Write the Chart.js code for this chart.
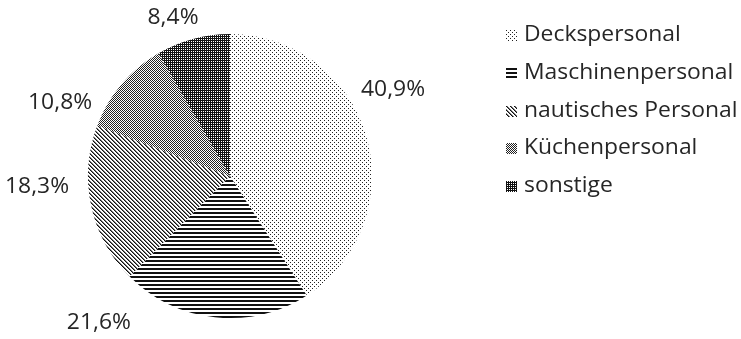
<!DOCTYPE html>
<html>
<head>
<meta charset="utf-8">
<script src="https://cdn.jsdelivr.net/npm/chart.js@4/dist/chart.umd.min.js"></script>
<style>
  html, body { margin: 0; padding: 0; background: #fff; }
  #contenedor { width: 741px; height: 339px; position: relative; }
</style>
</head>
<body>
<div id="contenedor"><canvas id="grafico-personal"></canvas></div>
<script>
// Datos del gráfico
const etiquetas = ['Deckspersonal', 'Maschinenpersonal', 'nautisches Personal', 'Küchenpersonal', 'sonstige'];
const anteiles = [40.9, 21.6, 18.3, 10.8, 8.4];

// Ajuste de la posición de las etiquetas: [grados respecto al centro del sector, factor del radio]
const ajusteEtiquetas = [[-11.4, 1.298], [35.6, 1.387], [8.8, 1.361], [-17, 1.303], [-4.7, 1.183]];

const fuente = '21px "Open Sans"';
const estiramiento = 1.09;
const colorTexto = '#262626';

// Crea un patrón a partir de una pequeña baldosa
function crearPatron(ctx, w, h, pintar) {
    const baldosa = document.createElement('canvas');
    baldosa.width = w;
    baldosa.height = h;
    const b = baldosa.getContext('2d');
    b.fillStyle = '#fff';
    b.fillRect(0, 0, w, h);
    pintar(b);
    return ctx.createPattern(baldosa, 'repeat');
}

function pixel(b, color, x, y) {
    b.fillStyle = color;
    b.fillRect(x, y, 1, 1);
}

const canvas = document.getElementById('grafico-personal');
const ctx = canvas.getContext('2d');

const patrones = [
    // Puntos dispersos
    crearPatron(ctx, 4, 4, b => {
        pixel(b, '#222', 0, 0);
        pixel(b, '#222', 2, 2);
    }),
    // Líneas horizontales
    crearPatron(ctx, 1, 4, b => {
        b.fillStyle = '#111';
        b.fillRect(0, 0, 1, 2);
    }),
    // Líneas diagonales
    crearPatron(ctx, 4, 4, b => {
        for (let y = 0; y < 4; y++) {
            for (let x = 0; x < 4; x++) {
                const m = ((x - y) % 4 + 4) % 4;
                if (m === 0) pixel(b, '#111', x, y);
                if (m === 1) pixel(b, '#777', x, y);
            }
        }
    }),
    // Tablero fino (gris)
    crearPatron(ctx, 2, 2, b => {
        pixel(b, '#222', 0, 0);
        pixel(b, '#222', 1, 1);
    }),
    // Oscuro con puntos blancos
    crearPatron(ctx, 2, 2, b => {
        b.fillStyle = '#111';
        b.fillRect(0, 0, 2, 2);
        pixel(b, '#fff', 1, 1);
    })
];

// Texto estirado horizontalmente (la fuente original es más ancha)
function textoEstirado(c, texto, x, y, alineacion) {
    c.save();
    c.translate(x, y);
    c.scale(estiramiento, 1);
    c.textAlign = alineacion;
    c.textBaseline = 'middle';
    c.fillText(texto, 0, 0);
    c.restore();
}

// Plugin para dibujar porcentajes y leyenda
const pluginEtiquetas = {
    id: 'etiquetas',
    afterDatasetsDraw(chart) {
        const c = chart.ctx;
        const meta = chart.getDatasetMeta(0);
        c.save();
        c.font = fuente;
        c.fillStyle = colorTexto;

        meta.data.forEach((arco, i) => {
            const p = arco.getProps(['x', 'y', 'startAngle', 'endAngle', 'outerRadius'], true);
            const ang = (p.startAngle + p.endAngle) / 2 + ajusteEtiquetas[i][0] * Math.PI / 180;
            const d = p.outerRadius * ajusteEtiquetas[i][1];
            const texto = anteiles[i].toFixed(1).replace('.', ',') + '%';
            textoEstirado(c, texto, p.x + Math.cos(ang) * d, p.y + Math.sin(ang) * d, 'center');
        });

        // Leyenda
        const leyendaX = 506;
        const leyendaY = 35;
        const paso = 37.8;
        etiquetas.forEach((et, i) => {
            const y = leyendaY + i * paso;
            c.fillStyle = patrones[i];
            c.fillRect(leyendaX, Math.round(y - 5), 11, 11);
            c.fillStyle = colorTexto;
            textoEstirado(c, et, leyendaX + 18, y, 'left');
        });
        c.restore();
    }
};

new Chart(ctx, {
    type: 'pie',
    data: {
        labels: etiquetas,
        datasets: [{
            data: anteiles,
            backgroundColor: patrones,
            borderWidth: 0
        }]
    },
    options: {
        responsive: true,
        maintainAspectRatio: false,
        animation: false,
        events: [],
        layout: {
            padding: { left: 88, right: 369, top: 34, bottom: 21 }
        },
        plugins: {
            legend: { display: false },
            tooltip: { enabled: false }
        }
    },
    plugins: [pluginEtiquetas]
});
</script>
</body>
</html>
